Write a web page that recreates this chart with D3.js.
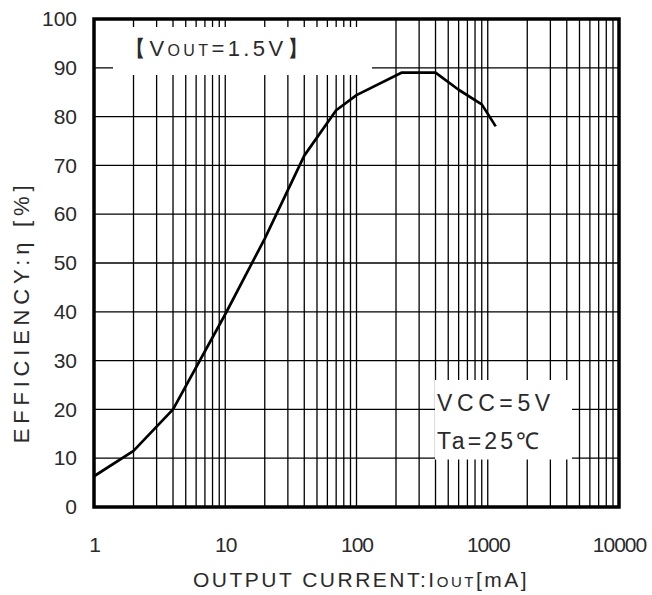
<!DOCTYPE html>
<html>
<head>
<meta charset="utf-8">
<script src="https://cdn.jsdelivr.net/npm/d3@7"></script>
<style>
  html, body { margin: 0; padding: 0; background: #fff; }
  svg { display: block; }
  text { font-family: "Liberation Sans", Arial, sans-serif; fill: #2a2a2a; }
</style>
</head>
<body>
<svg id="chart" width="652" height="595"></svg>
<script>
// ---- data ----
const currentMA = [1, 2, 4, 10, 20, 40, 70, 100, 220, 400, 600, 900, 1150];
const efficiency = [6.3, 11.5, 20, 39.5, 55, 72, 81.3, 84.4, 89, 89, 85.5, 82.5, 78];
const xTickValues = [1, 10, 100, 1000, 10000];
const xTickLabels = ["1", "10", "100", "1000", "10000"];
const yTickValues = [0, 10, 20, 30, 40, 50, 60, 70, 80, 90, 100];

const svg = d3.select("#chart");
const pLeft = 94, pRight = 619, pTop = 19, pBottom = 507;

const x = d3.scaleLog().domain([1, 10000]).range([pLeft, pRight]);
const y = d3.scaleLinear().domain([0, 100]).range([pBottom, pTop]);

// minor log grid
const minor = [];
for (let dec = 1; dec < 10000; dec *= 10) {
  for (let m = 1; m <= 9; m++) minor.push(dec * m);
}
const grid = svg.append("g");
grid.selectAll("line.v").data(minor.filter(v => v > 1)).join("line")
  .attr("x1", d => x(d)).attr("x2", d => x(d))
  .attr("y1", pTop).attr("y2", pBottom)
  .attr("stroke", "#000").attr("stroke-width", 1.3);
grid.selectAll("line.h").data(yTickValues.filter(v => v > 0 && v < 100)).join("line")
  .attr("x1", pLeft).attr("x2", pRight)
  .attr("y1", d => y(d)).attr("y2", d => y(d))
  .attr("stroke", "#000").attr("stroke-width", 1.3);

// white boxes behind annotations
svg.append("rect").attr("x", 113).attr("y", 27).attr("width", 259).attr("height", 48).attr("fill", "#fff");
svg.append("rect").attr("x", 435).attr("y", 380).attr("width", 137).attr("height", 79.5).attr("fill", "#fff");

// curve
const line = d3.line().x(d => x(d[0])).y(d => y(d[1]));
svg.append("path")
  .datum(currentMA.map((c, i) => [c, efficiency[i]]))
  .attr("d", line)
  .attr("fill", "none").attr("stroke", "#000").attr("stroke-width", 2.7)
  .attr("stroke-linejoin", "round");

// frame
svg.append("rect").attr("x", pLeft).attr("y", pTop)
  .attr("width", pRight - pLeft).attr("height", pBottom - pTop)
  .attr("fill", "none").attr("stroke", "#000").attr("stroke-width", 3.5);

// axes tick labels
const yAxis = d3.axisLeft(y).tickValues(yTickValues).tickSize(0).tickPadding(17);
const gy = svg.append("g").attr("transform", `translate(${pLeft},0)`).call(yAxis);
gy.select(".domain").remove();
gy.selectAll("text").attr("font-size", 21).attr("font-family", "Liberation Sans, Arial, sans-serif").attr("fill", "#2a2a2a");

const xAxis = d3.axisBottom(x).tickValues(xTickValues).tickFormat((d, i) => xTickLabels[i]).tickSize(0).tickPadding(30);
const gx = svg.append("g").attr("transform", `translate(0,${pBottom})`).call(xAxis);
gx.select(".domain").remove();
gx.selectAll("text").attr("font-size", 21).attr("letter-spacing", -1).attr("font-family", "Liberation Sans, Arial, sans-serif").attr("fill", "#2a2a2a");

// axis titles
const xt = svg.append("text").attr("x", 361).attr("y", 587).attr("text-anchor", "middle")
  .attr("font-size", 21).attr("letter-spacing", 2.5);
xt.append("tspan").text("OUTPUT CURRENT:I");
xt.append("tspan").attr("font-size", 15).text("OUT");
xt.append("tspan").text("[mA]");

svg.append("text")
  .attr("transform", "translate(29,312) rotate(-90)")
  .attr("text-anchor", "middle").attr("font-size", 22).attr("letter-spacing", 4.8)
  .text("EFFICIENCY:η [%]");

// annotations
const a1 = svg.append("text").attr("x", 124).attr("y", 56).attr("font-size", 22).attr("letter-spacing", 3.4);
a1.append("tspan").text("【V");
a1.append("tspan").attr("font-size", 16).text("OUT");
a1.append("tspan").text("=1.5V】");

svg.append("text").attr("x", 437).attr("y", 411).attr("font-size", 23).attr("letter-spacing", 4.6).text("VCC=5V");
svg.append("text").attr("x", 437).attr("y", 449).attr("font-size", 23).attr("letter-spacing", 3.2).text("Ta=25℃");
</script>
</body>
</html>
